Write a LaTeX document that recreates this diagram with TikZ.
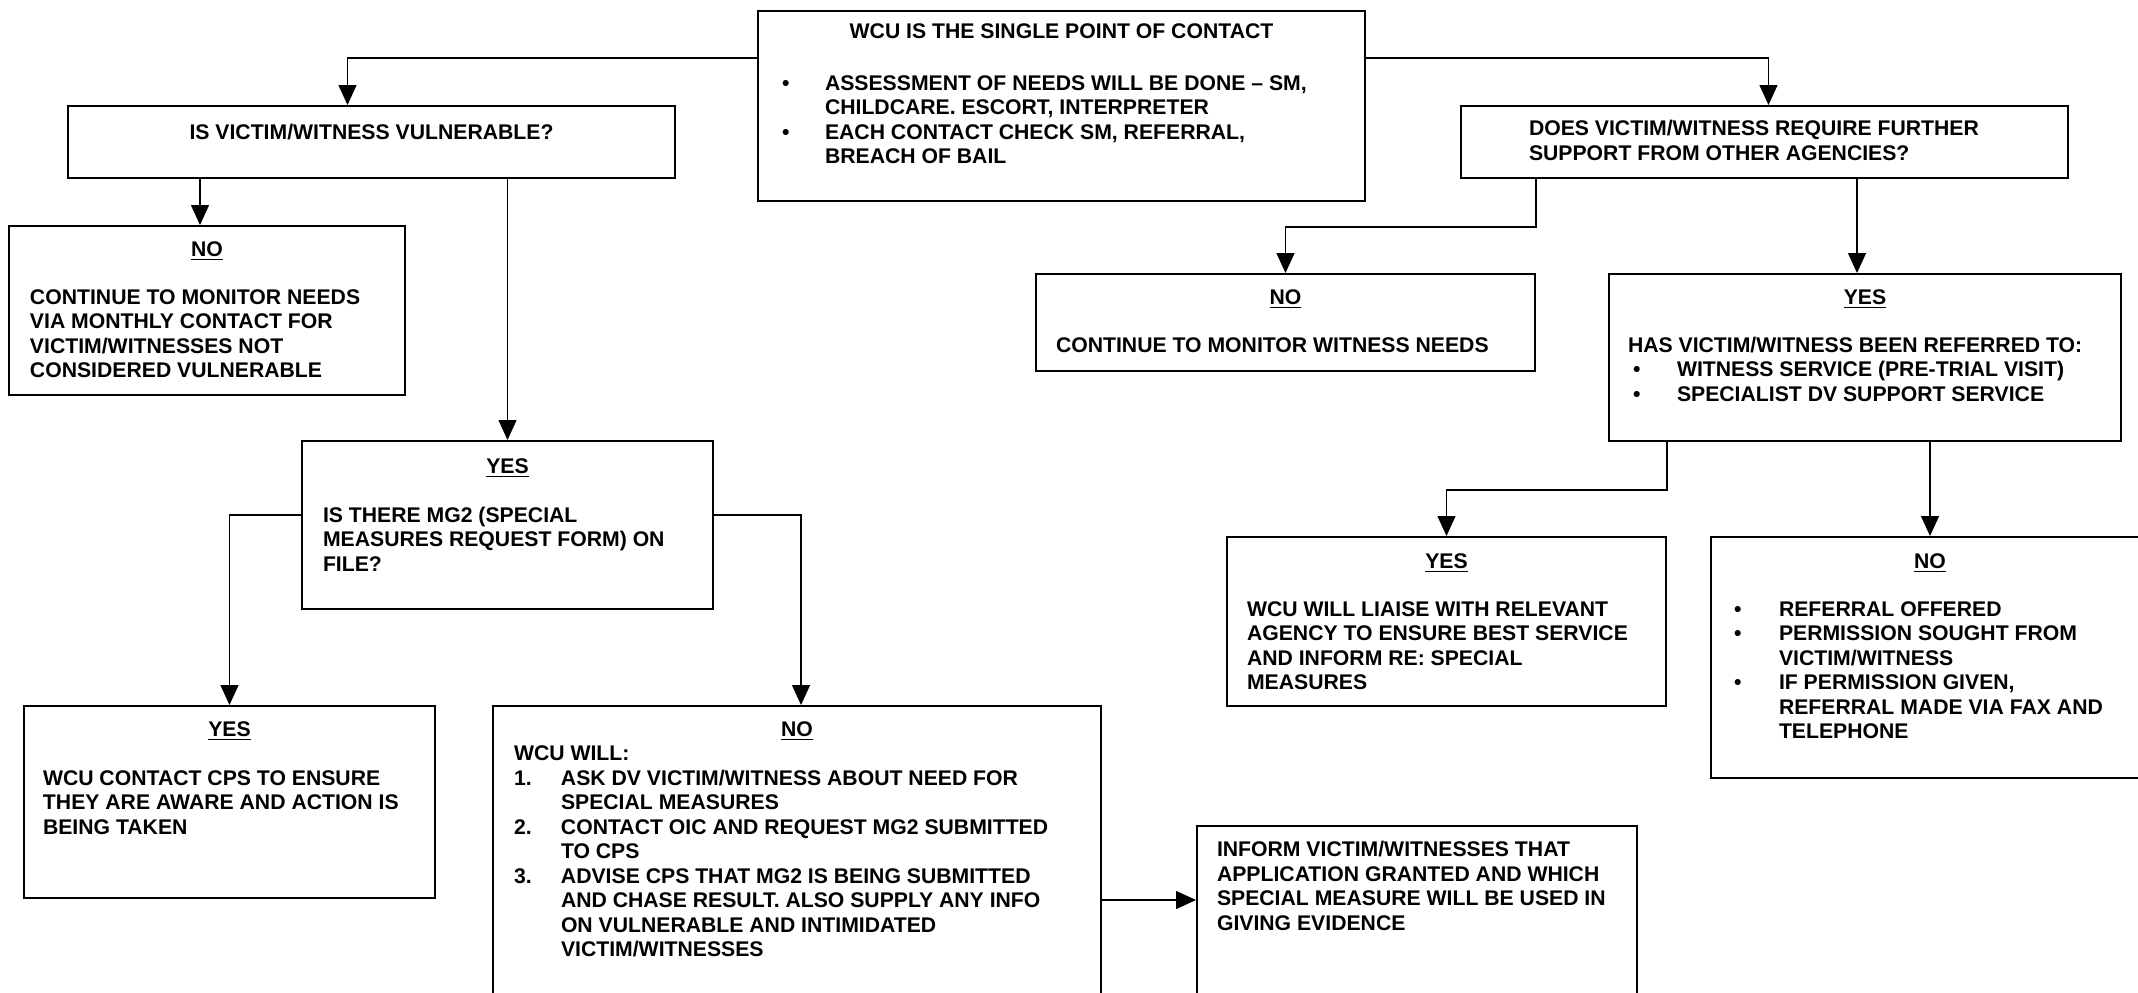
\documentclass[tikz,border=0pt]{standalone}
\usepackage{fontspec}
\setmainfont{Liberation Sans}
\usetikzlibrary{arrows.meta}

\newcommand{\flowfont}{\fontsize{10.6}{12.25}\selectfont\bfseries}
% width, height, top gap, left gap, text
\newcommand{\boxtext}[5]{\parbox[t][#2][t]{#1}{\vspace*{#3}\leftskip=#4\relax\rightskip=0pt plus 1fil\relax\parindent=0pt\relax#5}}
% marker offset, text indent, marker
\newcommand{\flowitem}[3]{\par\hangindent=#2\hangafter=1\noindent\makebox[#2][l]{\hspace*{#1}#3}}

\begin{document}
\begin{tikzpicture}[x=1pt, y=-1pt, line width=0.7pt, >={Triangle[length=10pt,width=9pt]},
  box/.style={draw, line width=1pt, inner sep=0pt, anchor=north west, font=\flowfont}]
  \useasboundingbox (0,0) rectangle (1069,496);
  \clip (0,0) rectangle (1069,496);

  % top row
  \node[box] (top) at (378.5,5) {\boxtext{303.5pt}{95pt}{6.2pt}{12pt}{%
    \centerline{WCU IS THE SINGLE POINT OF CONTACT}\vspace{13.75pt}
    \flowitem{0pt}{21.5pt}{\textbullet}ASSESSMENT OF NEEDS WILL BE DONE – SM,\\ CHILDCARE. ESCORT, INTERPRETER
    \flowitem{0pt}{21.5pt}{\textbullet}EACH CONTACT CHECK SM, REFERRAL,\\ BREACH OF BAIL}};
  \node[box] (vuln) at (33.5,52.5) {\boxtext{303.5pt}{36pt}{9.2pt}{0pt}{%
    \centerline{IS VICTIM/WITNESS VULNERABLE?}}};
  \node[box] (further) at (730,52.5) {\boxtext{303.5pt}{36pt}{7.2pt}{34pt}{%
    DOES VICTIM/WITNESS REQUIRE FURTHER\\ SUPPORT FROM OTHER AGENCIES?}};

  % left branch
  \node[box] (monitor) at (4,112.5) {\boxtext{198pt}{84.5pt}{7.7pt}{10.5pt}{%
    \centerline{\underline{NO}}\vspace{11.75pt}
    CONTINUE TO MONITOR NEEDS\\ VIA MONTHLY CONTACT FOR\\ VICTIM/WITNESSES NOT\\ CONSIDERED VULNERABLE}};
  \node[box] (mg2) at (150.5,220) {\boxtext{205.5pt}{84pt}{8.7pt}{10.5pt}{%
    \centerline{\underline{YES}}\vspace{12.25pt}
    IS THERE MG2 (SPECIAL\\ MEASURES REQUEST FORM) ON\\ FILE?}};
  \node[box] (cps) at (11.5,352.5) {\boxtext{205.5pt}{96pt}{7.7pt}{9.5pt}{%
    \centerline{\underline{YES}}\vspace{12.25pt}
    WCU CONTACT CPS TO ENSURE\\ THEY ARE AWARE AND ACTION IS\\ BEING TAKEN}};
  \node[box] (wcuwill) at (246,352.5) {\boxtext{304pt}{160pt}{7.7pt}{10.5pt}{%
    \centerline{\underline{NO}}
    WCU WILL:
    \flowitem{0pt}{23.5pt}{1.}ASK DV VICTIM/WITNESS ABOUT NEED FOR\\ SPECIAL MEASURES
    \flowitem{0pt}{23.5pt}{2.}CONTACT OIC AND REQUEST MG2 SUBMITTED\\ TO CPS
    \flowitem{0pt}{23.5pt}{3.}ADVISE CPS THAT MG2 IS BEING SUBMITTED\\ AND CHASE RESULT. ALSO SUPPLY ANY INFO\\ ON VULNERABLE AND INTIMIDATED\\ VICTIM/WITNESSES}};
  \node[box] (inform) at (598,412.5) {\boxtext{220pt}{100pt}{7.7pt}{10pt}{%
    INFORM VICTIM/WITNESSES THAT\\ APPLICATION GRANTED AND WHICH\\ SPECIAL MEASURE WILL BE USED IN\\ GIVING EVIDENCE}};

  % right branch
  \node[box] (noweb) at (517.5,136.5) {\boxtext{249.5pt}{48.5pt}{7.7pt}{10pt}{%
    \centerline{\underline{NO}}\vspace{11.75pt}
    CONTINUE TO MONITOR WITNESS NEEDS}};
  \node[box] (referred) at (804,136.5) {\boxtext{256pt}{83.5pt}{7.7pt}{9.5pt}{%
    \centerline{\underline{YES}}\vspace{11.75pt}
    HAS VICTIM/WITNESS BEEN REFERRED TO:
    \flowitem{2.5pt}{24.5pt}{\textbullet}WITNESS SERVICE (PRE-TRIAL VISIT)
    \flowitem{2.5pt}{24.5pt}{\textbullet}SPECIALIST DV SUPPORT SERVICE}};
  \node[box] (liaise) at (613,268) {\boxtext{219.5pt}{84.5pt}{8.2pt}{10pt}{%
    \centerline{\underline{YES}}\vspace{11.75pt}
    WCU WILL LIAISE WITH RELEVANT\\ AGENCY TO ENSURE BEST SERVICE\\ AND INFORM RE: SPECIAL\\ MEASURES}};
  \node[box] (refno) at (855,268) {\boxtext{219pt}{120.5pt}{8.2pt}{11.5pt}{%
    \centerline{\underline{NO}}\vspace{11.75pt}
    \flowitem{0pt}{22.5pt}{\textbullet}REFERRAL OFFERED
    \flowitem{0pt}{22.5pt}{\textbullet}PERMISSION SOUGHT FROM\\ VICTIM/WITNESS
    \flowitem{0pt}{22.5pt}{\textbullet}IF PERMISSION GIVEN,\\ REFERRAL MADE VIA FAX AND\\ TELEPHONE}};

  % connectors
  \draw[->] ([yshift=24pt]top.west) -| ([xshift=-12pt]vuln.north);
  \draw[->] ([yshift=24pt]top.east) -| ([xshift=2pt]further.north);
  \draw[->] ([xshift=-3.5pt]monitor.north |- vuln.south) -- ([xshift=-3.5pt]monitor.north);
  \draw[->] (vuln.south -| mg2.north) -- (mg2.north);
  \draw[->] ([yshift=5pt]mg2.west) -| (cps.north);
  \draw[->] ([yshift=5pt]mg2.east) -| ([xshift=2pt]wcuwill.north);
  \draw[->] ([yshift=13pt]inform.west -| wcuwill.east) -- ([yshift=13pt]inform.west);
  \draw[->] (further.south -| noweb.east) -- ++(0,24) -| (noweb.north);
  \draw[->] ([xshift=-4pt]referred.north |- further.south) -- ([xshift=-4pt]referred.north);
  \draw[->] (referred.south -| liaise.east) -- ++(0,24) -| (liaise.north);
  \draw[->] (referred.south -| refno.north) -- (refno.north);
\end{tikzpicture}
\end{document}
